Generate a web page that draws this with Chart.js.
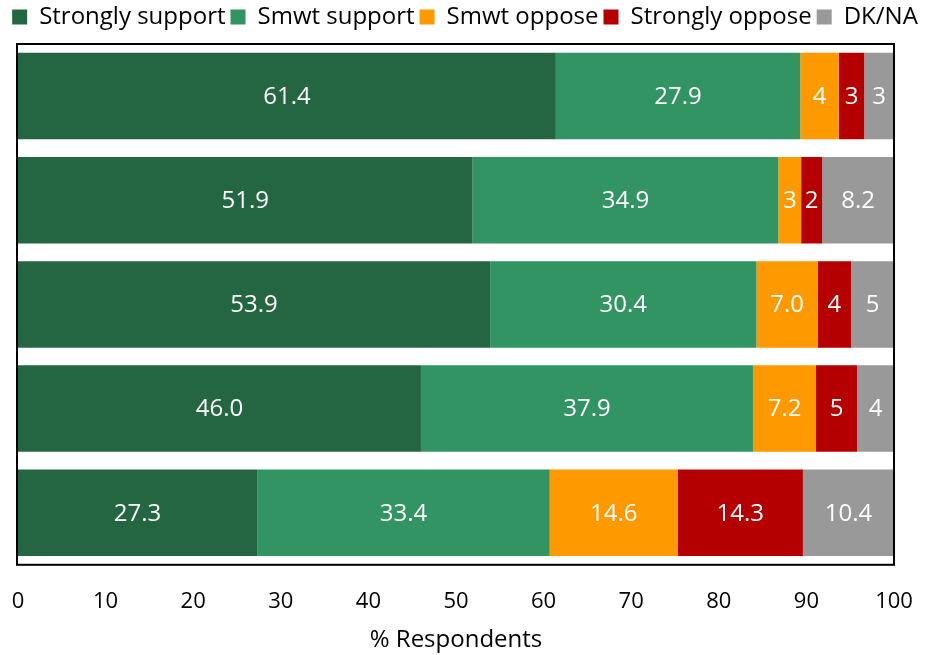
<!DOCTYPE html>
<html>
<head>
<meta charset="utf-8">
<script src="https://cdn.jsdelivr.net/npm/chart.js@4"></script>
<style>
  body { margin: 0; background: #fff; }
  #wrap { width: 930px; height: 655px; }
</style>
</head>
<body>
<div id="wrap"><canvas id="mychart"></canvas></div>
<script>
// rows top to bottom (no labels shown on the chart)
var rows = ['1', '2', '3', '4', '5'];
var strongSupport = [61.4, 51.9, 53.9, 46.0, 27.3];
var smwtSupport = [27.9, 34.9, 30.4, 37.9, 33.4];
var smwtOppose = [4.4, 2.6, 7.0, 7.2, 14.6];
var strongOppose = [2.9, 2.4, 3.8, 4.7, 14.3];
var dkna = [3.4, 8.2, 4.9, 4.2, 10.4];
var xTicks = [0, 10, 20, 30, 40, 50, 60, 70, 80, 90, 100];

var font = 'Open Sans';

// white value labels in the middle of each segment
var segLabels = {
    id: 'segLabels',
    afterDatasetsDraw: function(chart) {
        var ctx = chart.ctx;
        ctx.save();
        ctx.fillStyle = '#fff';
        ctx.font = '24px "' + font + '"';
        ctx.textAlign = 'center';
        ctx.textBaseline = 'middle';
        chart.data.datasets.forEach(function(ds, i) {
            chart.getDatasetMeta(i).data.forEach(function(bar, j) {
                var v = ds.data[j];
                var txt = v < 5 ? Math.round(v).toString() : v.toFixed(1);
                ctx.fillText(txt, (bar.x + bar.base) / 2, bar.y + 1);
            });
        });
        ctx.restore();
    }
};

// black frame round the plot area
var frame = {
    id: 'frame',
    afterDraw: function(chart) {
        var a = chart.chartArea;
        var ctx = chart.ctx;
        ctx.save();
        ctx.strokeStyle = '#000';
        ctx.lineWidth = 2;
        ctx.strokeRect(a.left - 1, a.top, a.right - a.left + 1, a.bottom - a.top);
        ctx.restore();
    }
};

// empty axes used only as spacers round the plot
function spacer(pos, size) {
    return {
        position: pos,
        display: true,
        grid: { display: false, drawTicks: false },
        border: { display: false },
        ticks: { display: false },
        afterFit: function(axis) {
            if (pos === 'top') axis.height = size; else axis.width = size;
        }
    };
}

var ctx = document.getElementById('mychart').getContext('2d');
var myChart = new Chart(ctx, {
    type: 'bar',
    data: {
        labels: rows,
        datasets: [
            { label: 'Strongly support', data: strongSupport, backgroundColor: '#236641' },
            { label: 'Smwt support', data: smwtSupport, backgroundColor: '#329463' },
            { label: 'Smwt oppose', data: smwtOppose, backgroundColor: '#ff9900' },
            { label: 'Strongly oppose', data: strongOppose, backgroundColor: '#b40000' },
            { label: 'DK/NA', data: dkna, backgroundColor: '#999999' }
        ]
    },
    options: {
        indexAxis: 'y',
        responsive: true,
        maintainAspectRatio: false,
        animation: false,
        datasets: {
            bar: { categoryPercentage: 1, barPercentage: 0.83 }
        },
        layout: { padding: 0 },
        plugins: {
            legend: {
                position: 'top',
                labels: {
                    boxWidth: 15,
                    boxHeight: 15,
                    padding: 5,
                    color: '#000',
                    font: { family: font, size: 24 }
                }
            },
            tooltip: { enabled: false }
        },
        scales: {
            x: {
                stacked: true,
                min: 0,
                max: 100,
                afterBuildTicks: function(axis) {
                    axis.ticks = xTicks.map(function(v) { return { value: v }; });
                },
                grid: { display: false, drawTicks: true, tickLength: 21 },
                border: { display: false },
                ticks: { color: '#000', padding: 3, maxRotation: 0, font: { family: font, size: 22 } },
                title: {
                    display: true,
                    text: '% Respondents',
                    color: '#000',
                    padding: { top: 8, bottom: 0 },
                    font: { family: font, size: 24 }
                }
            },
            y: {
                stacked: true,
                grid: { display: false, drawTicks: false },
                border: { display: false },
                ticks: { display: false },
                afterFit: function(axis) { axis.width = 18; }
            },
            xTop: spacer('top', 5),
            yRight: spacer('right', 36)
        }
    },
    plugins: [segLabels, frame]
});
</script>
</body>
</html>
